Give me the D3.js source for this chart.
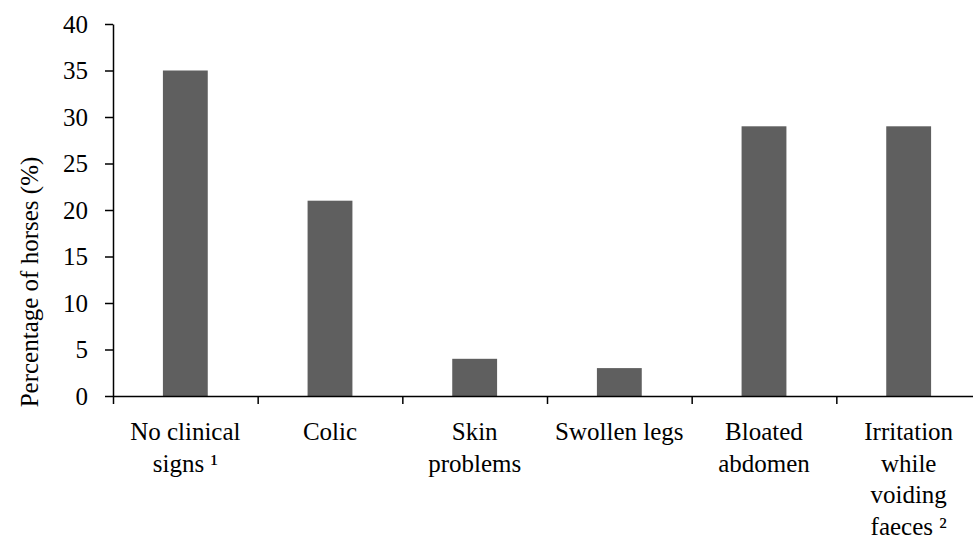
<!DOCTYPE html>
<html>
<head>
<meta charset="utf-8">
<script src="https://cdn.jsdelivr.net/npm/d3@7"></script>
<style>
  body { margin: 0; background: #fff; }
  svg text, svg tspan { font-family: "Liberation Serif", serif !important; fill: #000; }
</style>
</head>
<body>
<div id="wrapper"></div>
<script>
// data
const categories = [
    ["No clinical", "signs \u00B9"],
    ["Colic"],
    ["Skin", "problems"],
    ["Swollen legs"],
    ["Bloated", "abdomen"],
    ["Irritation", "while", "voiding", "faeces \u00B2"],
];
const values = [35, 21, 4, 3, 29, 29];
const yTicks = [0, 5, 10, 15, 20, 25, 30, 35, 40];
const yTitle = "Percentage of horses (%)";

function drawBars() {
    // dimensions
    let dimensions = {
        width: 973,
        height: 538,
        margin: { top: 24, right: -8, bottom: 142, left: 113 },
    }
    dimensions.boundedWidth = dimensions.width - dimensions.margin.left - dimensions.margin.right
    dimensions.boundedHeight = dimensions.height - dimensions.margin.top - dimensions.margin.bottom

    const fontSize = "25px"

    const wrapper = d3.select("#wrapper")
        .append("svg")
        .attr("width", dimensions.width)
        .attr("height", dimensions.height)
        .attr("font-family", "Liberation Serif")

    const bounds = wrapper.append("g")
        .attr("transform", `translate(${dimensions.margin.left},${dimensions.margin.top})`)

    // scales
    const idx = d3.range(categories.length)
    const xScale = d3.scaleBand()
        .domain(idx)
        .range([0, dimensions.boundedWidth])
        .paddingInner(0.69)
        .paddingOuter(0.345)

    const xEdges = d3.scaleLinear()
        .domain([0, categories.length])
        .range([0, dimensions.boundedWidth])

    const yScale = d3.scaleLinear()
        .domain([0, 40])
        .range([dimensions.boundedHeight, 0])

    // bars
    bounds.append("g")
        .selectAll("rect")
        .data(values)
        .join("rect")
        .attr("x", (d, i) => xScale(i))
        .attr("width", xScale.bandwidth())
        .attr("y", d => yScale(d))
        .attr("height", d => dimensions.boundedHeight - yScale(d))
        .attr("fill", "#5f5f5f")

    // y axis
    const yAxis = bounds.append("g")
        .call(d3.axisLeft(yScale)
            .tickValues(yTicks)
            .tickSize(8)
            .tickSizeOuter(0)
            .tickPadding(17))
        .attr("font-family", "Liberation Serif")
        .attr("font-size", fontSize)
    yAxis.selectAll("path, line").attr("stroke", "#000").attr("stroke-width", 1.5)
    yAxis.selectAll("text").attr("fill", "#000")

    // x axis: ticks at the category boundaries
    const xAxis = bounds.append("g")
        .attr("transform", `translate(0,${dimensions.boundedHeight})`)
        .call(d3.axisBottom(xEdges)
            .tickValues(d3.range(categories.length + 1))
            .tickSize(8)
            .tickSizeOuter(0)
            .tickFormat(""))
    xAxis.selectAll("path, line").attr("stroke", "#000").attr("stroke-width", 1.5)

    // category labels
    const labels = bounds.append("g")
        .attr("font-family", "Liberation Serif")
        .attr("font-size", fontSize)
        .selectAll("text")
        .data(categories)
        .join("text")
        .attr("x", (d, i) => xScale(i) + xScale.bandwidth() / 2)
        .attr("y", dimensions.boundedHeight + 44)
        .attr("text-anchor", "middle")

    labels.selectAll("tspan")
        .data(d => d)
        .join("tspan")
        .attr("x", function () { return this.parentNode.getAttribute("x") })
        .attr("dy", (d, i) => i == 0 ? 0 : 31.5)
        .text(d => d)

    // y title
    wrapper.append("text")
        .attr("transform", `translate(38,282) rotate(-90)`)
        .attr("text-anchor", "middle")
        .attr("font-size", fontSize)
        .text(yTitle)
}

drawBars();
</script>
</body>
</html>
